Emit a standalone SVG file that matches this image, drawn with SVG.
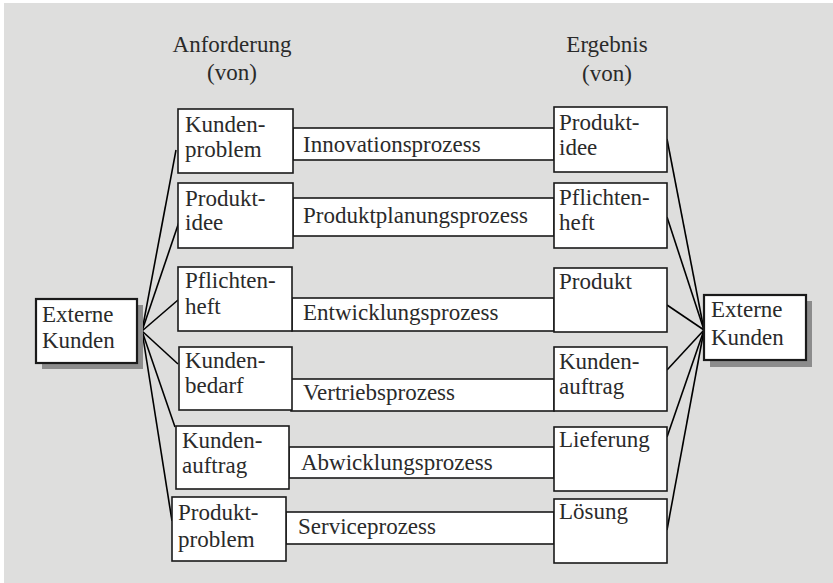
<svg xmlns="http://www.w3.org/2000/svg" width="833" height="583" viewBox="0 0 833 583">
<style>
.t{font-family:"Liberation Serif","Times New Roman",serif;font-size:23px;fill:#2a2a2a}
.m{text-anchor:middle}
.box{fill:#fff;stroke:#1a1a1a;stroke-width:1.6}
.bar{fill:#fff;stroke:#1a1a1a;stroke-width:1.6}
.ext{fill:#fff;stroke:#1a1a1a;stroke-width:2.2}
.sh{fill:#8c8c8c}
.ln{stroke:#000;stroke-width:1.6;fill:none}
</style>
<rect x="0" y="0" width="833" height="583" fill="#fff"/>
<rect x="4" y="3" width="829" height="580" fill="#dededd"/>

<g id="headers">
<text class="t m" x="232" y="52">Anforderung</text>
<text class="t m" x="232" y="80">(von)</text>
<text class="t m" x="607" y="52">Ergebnis</text>
<text class="t m" x="607" y="81">(von)</text>
</g>

<g id="connectors">
<line class="ln" x1="142" y1="331" x2="176" y2="150"/>
<line class="ln" x1="142" y1="331" x2="179" y2="222"/>
<line class="ln" x1="142" y1="331" x2="178" y2="300"/>
<line class="ln" x1="142" y1="331" x2="178" y2="364"/>
<line class="ln" x1="142" y1="331" x2="175" y2="427"/>
<line class="ln" x1="142" y1="331" x2="172" y2="521"/>
<line class="ln" x1="667" y1="139" x2="704" y2="330"/>
<line class="ln" x1="667" y1="217" x2="704" y2="330"/>
<line class="ln" x1="667" y1="305" x2="704" y2="330"/>
<line class="ln" x1="667" y1="370" x2="704" y2="330"/>
<line class="ln" x1="667" y1="437" x2="704" y2="330"/>
<line class="ln" x1="667" y1="530" x2="704" y2="330"/>
</g>

<g id="p-innovation"><rect class="bar" x="293" y="128" width="261" height="32"/><text class="t" x="303" y="152">Innovationsprozess</text></g>
<g id="p-produktplanung"><rect class="bar" x="293" y="198" width="261" height="38"/><text class="t" x="303" y="223">Produktplanungsprozess</text></g>
<g id="p-entwicklung"><rect class="bar" x="292" y="298" width="262" height="33"/><text class="t" x="303" y="320">Entwicklungsprozess</text></g>
<g id="p-vertrieb"><rect class="bar" x="291" y="379" width="263" height="32"/><text class="t" x="303" y="400">Vertriebsprozess</text></g>
<g id="p-abwicklung"><rect class="bar" x="289" y="447" width="265" height="31"/><text class="t" x="301" y="470">Abwicklungsprozess</text></g>
<g id="p-service"><rect class="bar" x="286" y="512" width="268" height="32"/><text class="t" x="298" y="534">Serviceprozess</text></g>

<g id="ext-left"><rect class="sh" x="42" y="305" width="101" height="64"/><rect class="ext" x="36" y="299" width="101" height="64"/><text class="t" x="42" y="322">Externe</text><text class="t" x="42" y="348">Kunden</text></g>
<g id="ext-right"><rect class="sh" x="710" y="301" width="102" height="66"/><rect class="ext" x="704" y="295" width="102" height="65"/><text class="t" x="711" y="317">Externe</text><text class="t" x="711" y="345">Kunden</text></g>

<g id="l-kundenproblem"><rect class="box" x="178" y="109" width="115" height="64"/><text class="t" x="185" y="132">Kunden-</text><text class="t" x="185" y="157">problem</text></g>
<g id="l-produktidee"><rect class="box" x="178" y="183" width="115" height="65"/><text class="t" x="185" y="206">Produkt-</text><text class="t" x="185" y="230">idee</text></g>
<g id="l-pflichtenheft"><rect class="box" x="178" y="267" width="114" height="64"/><text class="t" x="185" y="288">Pflichten-</text><text class="t" x="185" y="314">heft</text></g>
<g id="l-kundenbedarf"><rect class="box" x="179" y="347" width="113" height="63"/><text class="t" x="185" y="368">Kunden-</text><text class="t" x="185" y="393">bedarf</text></g>
<g id="l-kundenauftrag"><rect class="box" x="176" y="426" width="113" height="63"/><text class="t" x="182" y="448">Kunden-</text><text class="t" x="182" y="473">auftrag</text></g>
<g id="l-produktproblem"><rect class="box" x="172" y="497" width="114" height="64"/><text class="t" x="178" y="520">Produkt-</text><text class="t" x="178" y="547">problem</text></g>

<g id="r-produktidee"><rect class="box" x="554" y="107" width="113" height="65"/><text class="t" x="559" y="130">Produkt-</text><text class="t" x="559" y="155">idee</text></g>
<g id="r-pflichtenheft"><rect class="box" x="554" y="183" width="113" height="65"/><text class="t" x="559" y="205">Pflichten-</text><text class="t" x="559" y="230">heft</text></g>
<g id="r-produkt"><rect class="box" x="554" y="268" width="113" height="64"/><text class="t" x="559" y="289">Produkt</text></g>
<g id="r-kundenauftrag"><rect class="box" x="554" y="347" width="113" height="64"/><text class="t" x="559" y="369">Kunden-</text><text class="t" x="559" y="394">auftrag</text></g>
<g id="r-lieferung"><rect class="box" x="554" y="427" width="113" height="64"/><text class="t" x="559" y="447">Lieferung</text></g>
<g id="r-loesung"><rect class="box" x="554" y="499" width="113" height="64"/><text class="t" x="559" y="519">Lösung</text></g>
</svg>
